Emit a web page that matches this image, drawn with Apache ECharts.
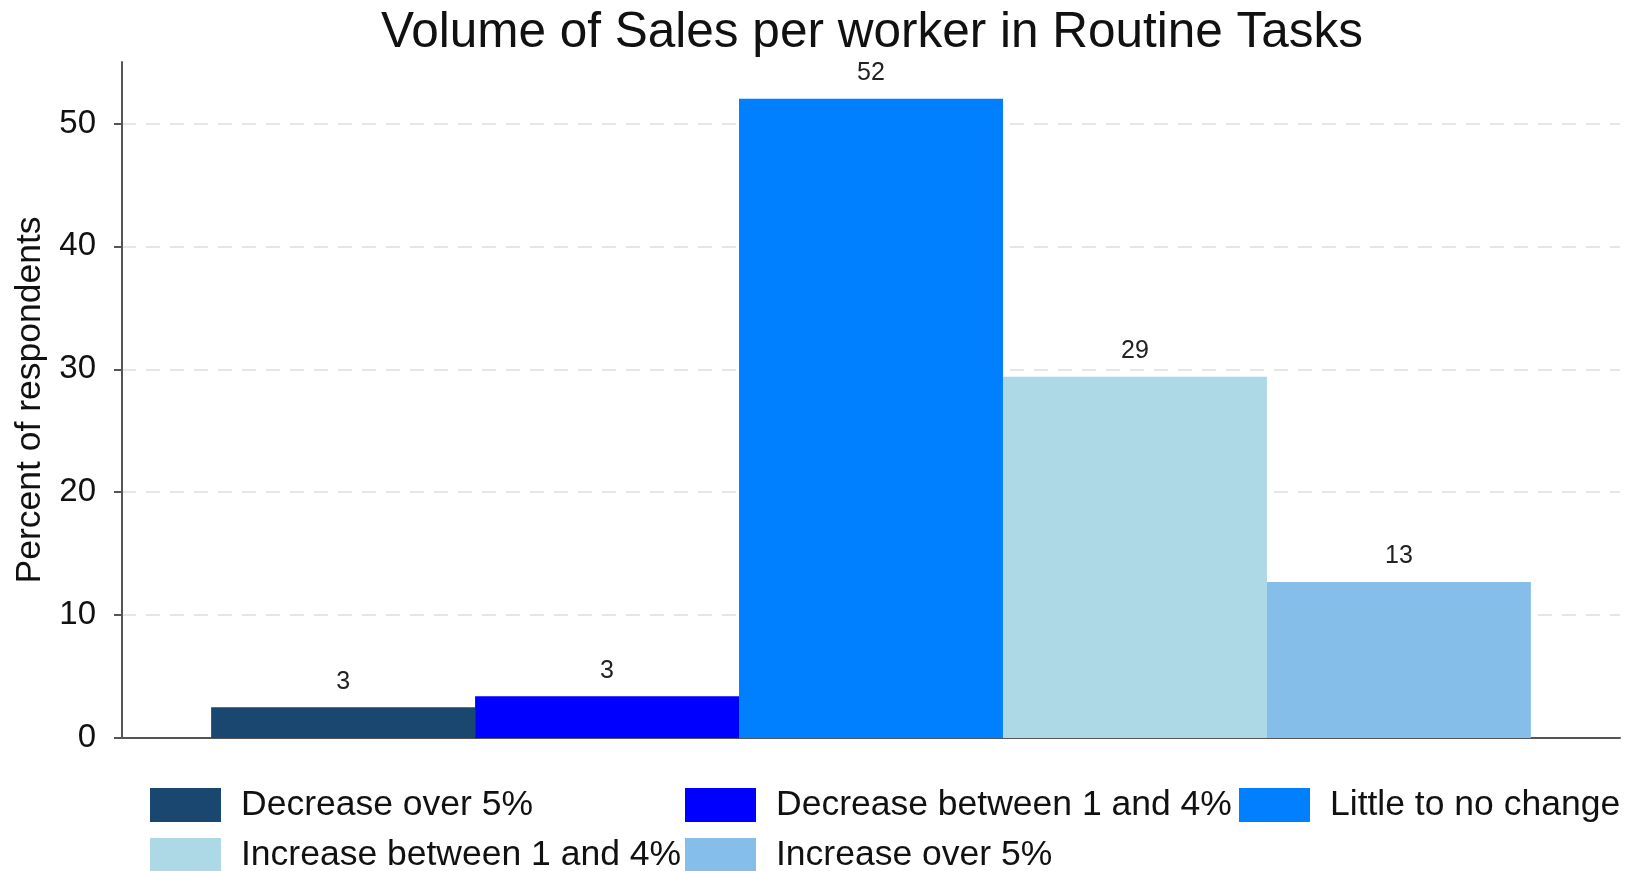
<!DOCTYPE html>
<html>
<head>
<meta charset="utf-8">
<script src="https://cdn.jsdelivr.net/npm/echarts@6/dist/echarts.min.js"></script>
<style>
  html, body { margin: 0; padding: 0; background: #fff; }
  #chart { width: 1626px; height: 871px; }
</style>
</head>
<body>
<div id="chart"></div>
<script>
// answer categories, in bar order
var categories = ['Decrease over 5%', 'Decrease between 1 and 4%', 'Little to no change',
                  'Increase between 1 and 4%', 'Increase over 5%'];
// percent of respondents per answer
var percents = [2.5, 3.4, 52.0, 29.4, 12.7];
// y tick labels
var yTicks = [0, 10, 20, 30, 40, 50];

var colors = ['#1a476f', '#0000ff', '#007fff', '#add8e6', '#85bee9'];
var font = 'Liberation Sans, Arial, sans-serif';

var series = [];
for (var i = 0; i < categories.length; i++) {
	series.push({
		name: categories[i],
		type: 'bar',
		barGap: '0%',
		barCategoryGap: '11.9%',
		itemStyle: { color: colors[i] },
		label: {
			show: true,
			position: 'top',
			distance: 13,
			fontFamily: font,
			fontSize: 25,
			color: '#222',
			formatter: function (p) { return Math.round(p.value); }
		},
		data: [percents[i]]
	});
}

function makeLegend(names, left) {
	return {
		orient: 'vertical',
		left: left,
		top: 787,
		height: 120,
		itemWidth: 71,
		itemHeight: 34,
		itemGap: 14,
		padding: 0,
		icon: 'rect',
		data: names,
		textStyle: { fontFamily: font, fontSize: 35.5, color: '#111', lineHeight: 34, padding: [0, 0, 0, 15] }
	};
}

var chart = echarts.init(document.getElementById('chart'));
var option = {
	backgroundColor: '#fff',
	animation: false,
	title: {
		text: 'Volume of Sales per worker in Routine Tasks',
		left: 867,
		textAlign: 'center',
		top: 3,
		textStyle: { fontFamily: font, fontSize: 49.5, fontWeight: 'normal', color: '#111' }
	},
	legend: [
		makeLegend([categories[0], categories[3]], 150),
		makeLegend([categories[1], categories[4]], 685),
		makeLegend([categories[2]], 1239)
	],
	grid: { left: 122, right: 6, top: 62, bottom: 133 },
	xAxis: {
		type: 'category',
		data: [''],
		axisLine: { lineStyle: { color: '#555', width: 2 } },
		axisTick: { show: false },
		axisLabel: { show: false }
	},
	yAxis: {
		type: 'value',
		min: 0,
		max: 55,
		interval: 10,
		name: 'Percent of respondents',
		nameLocation: 'middle',
		nameGap: 73,
		nameTextStyle: { fontFamily: font, fontSize: 35.5, color: '#111' },
		axisLine: { show: true, lineStyle: { color: '#555', width: 2 } },
		axisTick: { show: true, length: 8, customValues: yTicks, lineStyle: { color: '#555', width: 2 } },
		axisLabel: { customValues: yTicks, margin: 26, fontFamily: font, fontSize: 33, color: '#111' },
		splitLine: {
			show: true,
			showMinLine: false,
			lineStyle: { color: '#e6e6e6', type: [14, 10], width: 2 }
		}
	},
	series: series
};
chart.setOption(option);
</script>
</body>
</html>
